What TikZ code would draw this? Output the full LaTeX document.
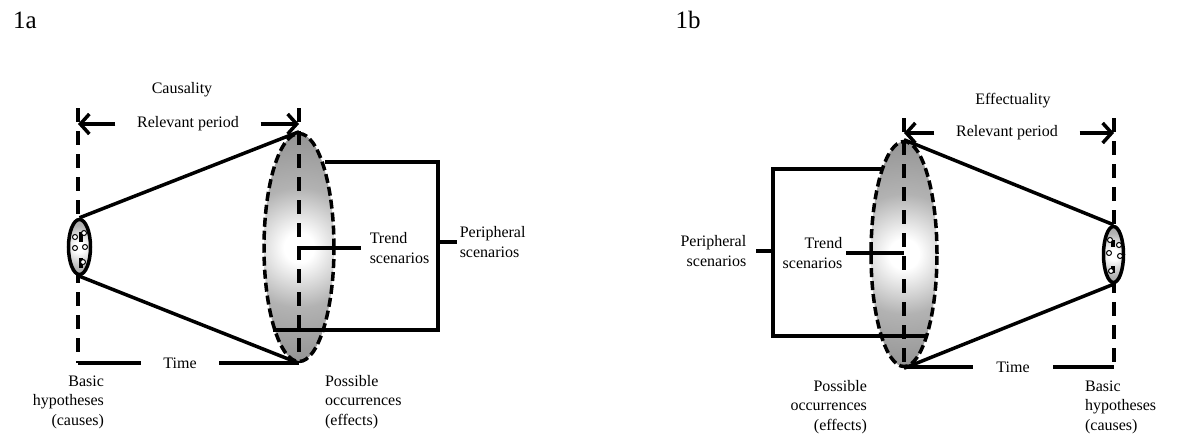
\documentclass[tikz,border=0pt]{standalone}
\usepackage{fontspec}
\setmainfont{Liberation Serif}
\usetikzlibrary{arrows.meta,shapes.geometric}
\pgfdeclareradialshading{cone}{\pgfpoint{0bp}{0bp}}{color(0bp)=(white); color(3bp)=(white); color(12bp)=(black!30); color(30bp)=(black!50); color(50bp)=(black!62)}

\begin{document}
\begin{tikzpicture}[x=1pt, y=-1pt, line width=3.5pt,
  font=\fontsize{16}{19.5}\selectfont,
  guide/.style={dash pattern=on 14pt off 9pt},
  arr/.style={-{Straight Barb[length=9pt,width=20pt]}},
  occ/.style={ellipse, draw, dash pattern=on 9pt off 4pt, inner sep=0pt,
    path picture={\shade[shading=cone] (path picture bounding box.center) circle (125pt);}},
  hyp/.style={ellipse, draw, inner sep=0pt,
    path picture={\shade[shading=cone] (path picture bounding box.center) circle (45pt);}},
  seed/.style={draw, fill=white, line width=1pt}]
\useasboundingbox (0,0) rectangle (1189,439);

\node[font=\fontsize{25}{30}\selectfont] (figa) at (25,20) {1a};
\node[font=\fontsize{25}{30}\selectfont] (figb) at (688,20) {1b};

% 1a
\coordinate (topL) at (78,108);
\coordinate (botL) at (78,363);
\coordinate (topM) at (299,108);
\coordinate (botM) at (299,363);
\draw[guide] (topL) -- (botL);
\node[hyp, minimum width=22pt, minimum height=55pt] (hypL) at (79.5,247) {};
\draw (81,232) -- (81,242) (81,258) -- (81,268);
\foreach \p in {(75,237),(84,233),(75,248),(85,247),(83,262)}
  \draw[seed] \p circle (2.5pt);
\node[occ, minimum width=70pt, minimum height=228pt] (occL) at (299,247.5) {};
\draw[guide] (topM) -- (botM);
\draw (hypL.north) -- (occL.north);
\draw (hypL.south) -- (occL.south);

\node (causa) at (182,90) {Causality};
\node[inner xsep=20pt] (relL) at (188,124) {Relevant period};
\draw[arr] (relL.west) -- (relL.west -| topL);
\draw[arr] (relL.east) -- (relL.east -| topM);
\node[inner xsep=21pt] (timeL) at (180,363) {Time};
\draw (botL) -- (timeL.west);
\draw (timeL.east) -- (botM);

\coordinate (midL) at (299,248);
\node[anchor=west, align=left, inner xsep=7pt] (trendL) at (361,248) {Trend\\scenarios};
\draw (midL) -- (trendL.west);
\draw (325,162) -| (438,330) -- (273,330);
\coordinate (brL) at (438,242);
\node[anchor=west, align=left, inner xsep=1pt] (perL) at (457,242) {Peripheral\\scenarios};
\draw (brL) -- (perL.west);

\node[anchor=east, align=right] (baseL) at (109,402) {Basic\\hypotheses\\(causes)};
\node[anchor=west, align=left] (possL) at (320,402) {Possible\\occurrences\\(effects)};

% 1b
\coordinate (topR) at (1114,118);
\coordinate (botR) at (1114,367);
\coordinate (topN) at (904,118);
\coordinate (botN) at (904,367);
\draw[guide] (topR) -- (botR);
\node[hyp, minimum width=20pt, minimum height=56pt] (hypR) at (1113.5,254.5) {};
\draw (1113,240) -- (1113,247) (1113,266) -- (1113,273);
\foreach \p in {(1110,240),(1119,245),(1109,253),(1120,256),(1111,271)}
  \draw[seed] \p circle (2.5pt);
\node[occ, minimum width=66pt, minimum height=225pt] (occR) at (904,254) {};
\draw[guide] (topN) -- (botN);
\draw (hypR.north) -- (occR.north);
\draw (hypR.south) -- (occR.south);

\node (effect) at (1013,101) {Effectuality};
\node[inner xsep=20pt] (relR) at (1007,133) {Relevant period};
\draw[arr] (relR.west) -- (relR.west -| topN);
\draw[arr] (relR.east) -- (relR.east -| topR);
\node[inner xsep=22pt] (timeR) at (1013,367) {Time};
\draw (botN) -- (timeR.west);
\draw (timeR.east) -- (botR);

\coordinate (midR) at (904,253);
\node[anchor=east, align=right, inner xsep=2pt] (trendR) at (846,253) {Trend\\scenarios};
\draw (midR) -- (trendR.east);
\draw (883,169) -| (773,336) -- (928,336);
\coordinate (brR) at (773,251);
\node[anchor=east, align=right, inner xsep=8pt] (perR) at (756,251) {Peripheral\\scenarios};
\draw (brR) -- (perR.east);

\node[anchor=east, align=right] (possR) at (872,407) {Possible\\occurrences\\(effects)};
\node[anchor=west, align=left] (baseR) at (1080,407) {Basic\\hypotheses\\(causes)};
\end{tikzpicture}
\end{document}
